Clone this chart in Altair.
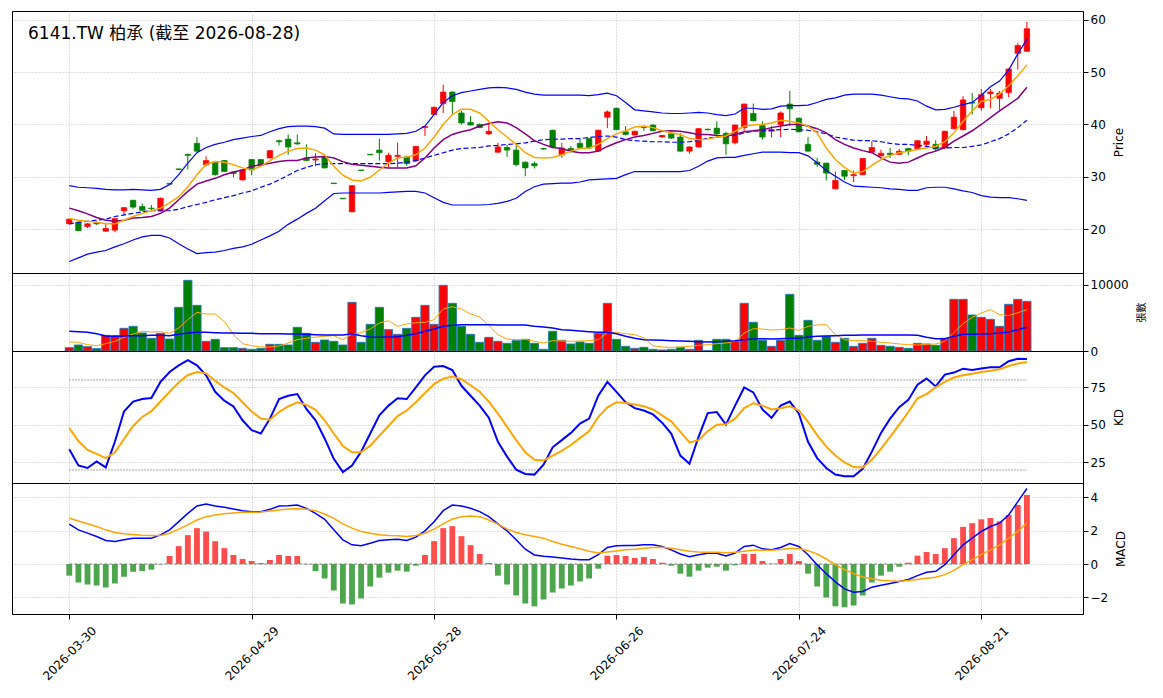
import json
import altair as alt
import numpy as np
import pandas as pd

# ---------------- data ----------------
HOLIDAYS = ["2026-04-03", "2026-04-06", "2026-05-01", "2026-06-19"]
dates = [d.strftime("%Y-%m-%d") for d in pd.bdate_range("2026-03-30", "2026-08-28")
         if d.strftime("%Y-%m-%d") not in HOLIDAYS]

opens = [21.0,21.3,20.5,21.2,19.6,19.8,23.5,25.5,24.3,24.0, 23.5,28.7,31.5,34.3,36.4,32.3,32.8,33.1,30.9,29.4,
         33.3,33.3,33.6,36.9,37.2,36.5,33.6,33.2,33.8,28.8, 25.9,23.3,31.3,34.3,35.1,32.9,33.9,33.8,33.1,39.4,
         41.9,44.0,46.2,42.2,40.4,40.0,38.2,34.7,35.6,35.1, 32.8,32.5,35.4,38.9,34.2,35.4,36.4,37.3,34.9,41.4,
         43.1,38.6,38.0,39.6,39.9,37.6,38.2,37.6,34.9,35.7, 39.1,39.3,38.3,36.5,39.4,42.1,39.8,38.7,40.0,43.9,
         41.2,36.2,32.8,32.6,27.7,31.2,30.2,30.4,34.7,34.0, 34.5,34.3,35.4,35.4,36.2,36.2,35.5,39.2,39.0,44.2,
         43.2,45.9,45.0,46.1,53.6,54.0]
closes = [21.9,19.7,21.0,21.0,20.1,22.0,24.1,24.2,23.6,23.9, 25.9,28.6,31.4,34.1,34.9,33.1,30.4,31.0,30.6,31.3,
          31.3,32.2,35.0,36.7,35.7,36.3,33.1,33.4,31.7,28.7, 25.8,28.3,31.2,34.2,34.6,34.1,34.1,32.5,35.8,39.6,
          43.3,46.2,44.4,40.3,39.9,39.4,38.7,35.7,35.1,32.3, 31.7,32.1,35.3,35.7,35.5,35.0,35.6,35.5,38.9,42.4,
          39.0,38.1,38.7,39.4,38.8,37.9,37.4,34.9,35.7,39.2, 39.0,38.2,36.3,39.9,43.9,40.7,37.6,39.0,42.2,43.0,
          38.6,34.9,32.4,30.7,29.3,30.1,30.4,33.5,35.6,34.5, 34.2,34.9,34.9,36.9,36.8,35.3,38.7,41.4,44.7,44.1,
          45.7,46.2,46.0,50.6,55.1,58.3]
highs = [22.0,21.4,21.1,21.5,21.2,22.1,24.2,25.6,24.9,24.6, 26.0,28.8,31.6,34.4,37.6,33.9,32.9,33.2,31.0,31.4,
         33.4,33.4,35.1,37.1,38.1,38.1,36.2,34.5,33.9,28.8, 25.9,28.4,31.3,34.3,37.3,34.6,36.5,34.0,35.9,39.7,
         43.4,47.6,46.3,42.6,41.6,40.2,40.3,36.5,36.1,36.2, 32.9,32.9,35.5,39.0,36.5,35.9,37.2,37.4,39.0,42.7,
         43.2,39.7,38.8,39.7,40.0,38.0,38.4,38.4,35.8,39.3, 39.2,40.6,38.6,40.0,44.0,44.0,40.6,39.7,42.5,46.4,
         41.3,37.6,33.6,32.7,31.0,31.3,31.2,33.6,36.8,35.2, 35.5,35.3,35.5,37.0,37.8,37.0,38.8,42.6,45.4,46.0,
         46.8,46.8,46.4,50.7,55.6,59.6]
lows = [20.9,19.6,20.2,20.8,19.5,19.4,22.6,23.9,23.4,23.4, 23.4,28.5,31.3,31.4,34.6,32.0,30.2,30.9,29.9,29.3,
        30.3,32.1,33.5,36.0,34.2,36.1,33.0,32.0,31.6,28.6, 25.7,23.2,31.1,34.1,33.1,31.9,31.8,32.1,32.8,37.8,
        41.8,42.2,41.9,40.0,39.8,39.3,38.0,34.6,33.8,32.0, 30.1,31.6,35.2,35.6,33.6,34.6,35.5,35.3,34.8,39.3,
        38.9,37.9,37.9,38.8,38.7,37.5,37.2,34.8,34.4,35.6, 38.9,37.6,34.2,36.2,38.8,40.6,37.1,37.5,37.6,39.7,
        38.5,34.8,31.9,29.3,27.6,29.4,29.0,30.3,34.6,33.9, 33.6,34.2,34.1,35.3,35.6,34.9,35.4,39.1,38.9,41.9,
        42.6,43.1,42.8,45.2,50.5,53.9]

ma5 = [22.0,21.7,21.5,21.3,21.0,21.0,21.7,22.4,23.0,23.5, 24.0,25.0,26.2,28.1,30.4,32.4,32.9,32.8,32.3,31.7,
       31.3,32.0,33.1,34.1,34.9, 35.4,35.5,35.1,34.2,32.0, 30.3,29.4,29.2,29.9,31.3, 32.6,33.6,33.8,34.2,35.5,
       37.6,40.0,41.9,42.9,42.9, 42.2,40.6,39.0,37.6,36.2, 34.6,33.7,33.6,33.7,34.2, 34.9,35.4,35.5,36.2,37.3,
       38.2,38.8,39.5,39.7,39.4, 38.8,38.4,38.1,37.3,37.1, 37.2,37.6,37.8,38.7,39.7, 39.9,40.0,40.3,40.8,40.6,
       40.3,39.7,38.4,35.5, 33.3,31.8,30.7,31.0,32.2, 33.3,34.1,34.6,34.9,35.2, 35.5,35.8,36.7,38.4,40.6,
       42.6,44.4,44.8,45.8,47.4, 49.3,51.4]
ma10 = [24.0,23.5,22.9,22.2,21.7,21.5,21.7,22.1,22.2,22.4, 23.0,24.0,25.6,27.2,28.6,29.2,29.7,30.4,30.9,31.3,
        32.0,32.3,32.6,32.9,33.1, 33.1,33.6,33.8,33.9,33.6, 32.9,32.4,32.2,32.0,31.8, 31.7,31.7,31.7,32.1,33.6,
        35.5,37.1,38.1,38.6,39.0, 39.7,40.2,40.5,40.3,39.4, 38.2,36.9,36.2,35.6,35.4, 34.9,34.6,34.6,34.9,35.8,
        36.5,37.1,37.6,37.9,38.3, 38.7,38.8,38.7,38.4,38.1, 38.1,37.9,37.8,38.1,38.6, 38.8,39.0,39.4,39.7,40.0,
        40.0,39.7,39.2,38.4, 37.1,36.2,35.5,35.0,34.6, 33.6,32.8,32.6,32.8,33.6, 34.4,34.9,35.6,36.8,37.8,
        38.8,40.0,41.3,42.6,43.8, 45.0,47.1]
ma20 = [21.0,21.3,21.5,21.7,21.9,22.4,22.7,23.0,23.3,23.5, 23.5,23.5,23.8,24.3,24.7,25.1,25.6,26.0,26.4,26.9,
        27.3,28.0,28.6,29.4,30.3, 31.2,31.8,32.3,32.5,32.5, 32.5,32.5,32.5,32.5,32.5, 32.5,32.6,32.8,33.1,33.6,
        34.1,34.6,35.1,35.4,35.5, 35.6,35.9,36.0,36.2,36.3, 36.5,36.8,37.1,37.2,37.2, 37.3,37.3,37.5,37.7,37.8,
        37.6,37.1,36.9,36.8,36.7, 36.7,36.6,36.6,36.7,36.9, 37.4,37.6,37.8,37.9,38.4, 38.7,38.8,38.9,39.0,39.1,
        39.0,38.9,38.6,38.2, 37.6,37.3,37.0,36.9,36.9, 36.7,36.4,36.2,36.2,36.0, 35.8,35.5,35.5,35.6,35.6,
        35.8,36.1,36.7,37.3,38.2, 39.4,40.8]
bb_up = [28.3,28.0,27.9,27.8,27.6,27.5,27.5,27.6,27.5,27.4, 27.6,28.5,30.4,32.6,34.6,35.6,36.2,36.6,37.1,37.4,
         37.7,37.9,38.6,39.2,39.6, 39.7,39.7,39.6,39.3,38.2, 38.1,38.1,38.1,38.1,38.1, 38.1,38.2,38.3,38.7,39.7,
         41.9,44.2,45.5,46.1,46.4, 46.7,47.0,47.1,47.0,46.7, 46.2,45.8,45.6,45.6,45.6, 45.6,45.6,45.5,45.7,46.0,
         45.5,44.2,42.8,42.6,42.4, 42.2,42.1,42.1,42.2,42.3, 42.2,41.9,41.7,42.0,43.1, 43.1,42.9,43.0,43.5,43.6,
         43.6,43.7,44.2,44.8, 45.1,45.6,45.8,45.8,45.8, 45.6,45.3,45.0,44.9,44.5, 43.5,42.8,42.9,43.3,43.8,
         44.2,45.6,47.2,48.3,50.4, 53.5,56.3]
bb_lo = [13.8,14.5,15.2,15.6,15.9,16.6,17.2,17.9,18.5,18.8, 18.8,18.3,17.2,16.2,15.3,15.5,15.6,15.9,16.3,16.6,
         17.1,17.9,18.7,19.6,20.9, 21.9,23.0,24.0,25.4,26.8, 26.9,26.9,26.9,26.9,26.9, 27.0,27.1,27.2,27.2,26.9,
         26.0,25.1,24.6,24.6,24.6, 24.6,24.7,24.9,25.3,25.9, 27.2,28.1,28.6,28.7,28.8, 28.8,29.0,29.4,29.5,29.6,
         29.7,30.4,31.0,31.0,31.0, 31.0,31.0,31.0,31.2,32.0, 33.0,33.6,33.7,33.7,34.1, 34.4,34.7,34.7,34.7,34.6,
         34.6,34.0,32.7,31.2, 30.1,29.0,28.2,28.1,28.0, 27.9,27.7,27.6,27.4,27.4, 27.9,28.0,28.0,27.7,27.3,
         27.0,26.4,26.1,26.0,26.0, 25.8,25.5]

volume = [505,909,657,354,2374,2300,3434,3737,2727,1919, 2677,1818,6616,10707,6919,1465,1768,505,505,404,
          253,404,1010,1010,909,3586,2677,1313,1667,1465, 909,7374,1313,4040,6616,3232,2525,3434,5101,6919,
          4040,9949,7222,3737,2525,1313,2071,1465,1162,1566, 1768,1162,253,2980,1616,1061,1364,1162,2677,7222,
          1768,707,404,556,253,152,253,556,253,1616, 50,1768,1768,1465,7222,4343,1616,707,1616,8586,
          2374,4646,1616,2222,1313,1919,707,1162,1919,859, 707,556,404,1162,1061,859,1919,7828,7828,5455,
          5101,4798,3737,7071,7828,7525]
vol_ma5 = [1364,1313,960,808,1111,1465,2071,2576,2980,2879, 2929,2677,3485,4747,5859,5606,5606,4495,2475,1111,
           808,606,606,758,1212,1717,1919,2121,2222,2323, 1717,2576,2778,3333,4242,4596,3737,4091,4293,4343,
           4747,6364,6717,6364,5606,5152,3889,2475,1818,1717, 1768,1465,
           1212,1566,1515,1465,1515,1566,1717,2828,
           2828,2626,2475,1970,808,606,556,606,707,859, 960,1111,1212,1465,2727,3384,3333,3182,3232,3485,
           3131,3737,3939,3990,2475,1717,1566,1566,1465,1313, 1212,1061,960,909,1010,1061,1465,2828,4141,5101,
           5758,6263,5505,5354,5808,6263]
vol_ma20 = [2980,2929,2828,2626,2273,2222,2273,2323,2323,2374, 2374,2323,2525,2727,2828,2828,2778,2727,2727,2677,
            2677,2626,2626,2626,2576,2576,2525,2475,2424,2424, 2424,2626,2323,2121,2071,2121,2172,2374,2626,2980,
            3333,3737,3889,3990,3990,3990,3990,3939,3939,3939, 3939,3737,
            3636,3485,3232,3131,3030,2929,2828,2828,2626,
            2222,1919,1717,1667,1616,1566,1515,1465,1414,1364, 1414,1465,1566,1717,1818,1869,1818,1869,1919,1919,
            2121,2222,2273,2323,2374,2374,2424,2424,2424,2424, 2424,2424,2374,2071,1869,1869,2222,2525,2525,2576,
            2626,2727,2879,3232,3586]

k_vals = [33.8,23.0,21.3,25.7,21.7,38.8,59.0,65.6,67.3,68.0, 78.7,85.3,89.7,93.2,89.7,83.1,72.1,66.2,62.3,53.1,
          46.5,44.3,54.2,67.3,69.5,70.6,60.7,53.1,41.0,27.4, 18.6,23.0,32.2,44.3,56.4,62.9,67.8,67.3,75.0,83.1,
          88.8,89.3,86.6,76.1,69.5,62.9,54.8,38.8,28.9,20.2, 17.3,16.9,
          23.5,35.1,39.9,44.7,50.9,54.2,69.5,78.7,72.1,
          65.1,61.2,59.6,57.0,51.5,44.3,29.6,24.1,42.1,57.9, 58.6,50.2,62.9,75.0,71.7,60.3,54.8,62.9,65.6,57.5,
          38.8,27.9,21.3,16.9,15.8,15.8,20.8,32.2,44.7,54.2, 61.8,66.7,76.8,80.9,75.7,83.6,84.9,87.5,86.6,87.7,
          88.4,88.4,92.5,94.1,93.9]
d_vals = [48.0,39.3,33.3,30.7,27.9,31.6,40.6,49.3,55.3,59.2, 65.6,72.1,78.3,83.3,85.3,84.4,79.4,75.0,71.3,65.1,
          59.0,54.2,53.5,58.6,62.3,65.1,63.4,60.1,53.1,44.3, 36.0,31.8,31.8,36.2,42.8,49.3,55.9,59.6,65.1,71.3,
          77.2,80.9,82.2,80.5,76.5,72.1,65.6,57.5,48.7,39.9, 31.8,26.8,
          26.3,29.6,32.7,36.6,41.4,45.8,55.3,61.8,65.1,
          64.6,63.6,62.5,60.3,56.4,52.4,45.4,38.4,39.9,45.8, 50.2,50.4,54.2,61.2,64.5,62.9,60.3,61.2,62.5,59.6,
          52.0,43.2,35.5,29.6,25.0,21.9,21.7,26.8,34.0,42.1, 50.2,58.6,67.8,70.6,75.0,78.7,81.6,83.1,84.2,85.3,
          86.2,87.1,89.3,91.0,91.9]

dif = [2.39,2.05,1.85,1.65,1.41,1.35,1.45,1.55,1.55,1.55, 1.75,2.05,2.54,3.04,3.48,3.60,3.48,3.40,3.30,3.20,
       3.14,3.14,3.28,3.48,3.50,3.54,3.34,3.04,2.68,2.05, 1.45,1.15,1.09,1.25,1.41,1.45,1.49,1.41,1.61,1.99,
       2.54,3.20,3.54,3.48,3.34,3.14,2.84,2.41,1.99,1.45, 0.89,0.54,
       0.46,0.42,0.36,0.30,0.26,0.26,0.56,0.99,1.09,
       1.11,1.11,1.15,1.15,1.05,0.85,0.60,0.44,0.56,0.64, 0.64,0.48,0.66,1.05,1.13,0.91,0.85,0.99,1.23,1.05,
       0.56,-0.04,-0.58,-1.07,-1.49,-1.69,-1.65,-1.39,-1.27,-1.17, -1.05,-0.93,-0.70,-0.50,-0.44,-0.04,0.56,1.15,1.55,1.95,
       2.25,2.45,2.94,3.74,4.53]
dea = [2.74,2.58,2.41,2.25,2.05,1.89,1.81,1.77,1.73,1.71, 1.71,1.85,2.09,2.35,2.64,2.84,2.94,3.02,3.06,3.10,
       3.10,3.12,3.18,3.24,3.30,3.32,3.28,3.20,3.00,2.74, 2.41,2.15,1.95,1.85,1.75,1.71,1.69,1.65,1.71,1.85,
       2.09,2.41,2.70,2.84,2.88,2.84,2.64,2.39,2.09,1.89, 1.75,1.65,
       1.55,1.35,1.19,1.05,0.91,0.76,0.66,0.72,0.78,
       0.85,0.89,0.95,0.99,1.01,0.95,0.85,0.76,0.72,0.70, 0.70,0.68,0.70,0.76,0.82,0.83,0.83,0.87,0.93,0.93,
       0.80,0.60,0.30,-0.04,-0.34,-0.58,-0.78,-0.89,-0.97,-1.01, -1.03,-0.99,-0.93,-0.85,-0.80,-0.64,-0.38,-0.04,0.26,0.56,
       0.85,1.15,1.55,1.95,2.45]
hist = [-0.70,-1.11,-1.23,-1.29,-1.41,-1.17,-0.76,-0.46,-0.42,-0.34, -0.02,0.48,1.07,1.73,2.15,1.95,1.37,0.95,0.54,0.30,
        0.18,0.06,0.24,0.54,0.48,0.48,-0.02,-0.42,-0.87,-1.59, -2.37,-2.43,-2.07,-1.35,-0.82,-0.52,-0.40,-0.46,-0.10,0.54,
        1.37,2.15,2.27,1.67,1.13,0.60,0.06,-0.70,-1.23,-1.89, -2.37,-2.54,
        -2.13,-1.71,-1.47,-1.29,-1.05,-0.87,-0.28,0.50,0.54,
        0.48,0.36,0.42,0.30,0.08,-0.10,-0.58,-0.76,-0.40,-0.22, -0.16,-0.40,-0.08,0.60,0.60,0.18,0.02,0.30,0.60,0.18,
        -0.58,-1.35,-2.01,-2.54,-2.60,-2.49,-1.89,-1.11,-0.70,-0.46, -0.16,0.08,0.50,0.72,0.60,0.95,1.55,2.23,2.45,2.68,
        2.76,2.56,2.94,3.54,4.14]

TITLE = "6141.TW 柏承 (截至 2026-08-28)"
TICK_IDX = [0, 20, 40, 60, 80, 100]
KD_LEVELS = [20, 80]

# ---------------- style ----------------
W = 1071
H_PRICE, H_VOL, H_KD, H_MACD = 262, 78, 132, 131
RED, GREEN = "#ff0000", "#008000"
HRED, HGREEN = "#ff4d4d", "#4da64d"
LAT = "DejaVu Sans"
CJK = "DejaVu Sans, Noto Sans CJK TC"

N = len(dates)
df = pd.DataFrame({
    "i": list(range(N)), "date": dates,
    "open": opens, "high": highs, "low": lows, "close": closes,
    "ma5": ma5, "ma10": ma10, "ma20": ma20, "bb_up": bb_up, "bb_lo": bb_lo,
    "vol": volume, "vol_ma5": vol_ma5, "vol_ma20": vol_ma20,
    "k": k_vals, "d": d_vals, "dif": dif, "dea": dea, "hist": hist,
})
df["ccol"] = np.where(df["close"] >= df["open"], RED, GREEN)
df["hcol"] = np.where(df["hist"] >= 0, HRED, HGREEN)

xscale = alt.Scale(domain=[-6.28, 111.15], nice=False, zero=False)
label_expr = json.dumps(dates) + "[datum.value]"


def x_axis(show):
    if show:
        return alt.Axis(values=TICK_IDX, labelExpr=label_expr, labelAngle=315, labelAlign="center",
                        labelBaseline="middle", labelPadding=34, tickSize=5, grid=True, domain=True,
                        domainColor="black", title=None, labelOverlap=False, labelFontSize=12)
    return alt.Axis(values=TICK_IDX, labels=False, ticks=False, grid=True, domain=False, title=None)


def X(field, show):
    return alt.X(f"{field}:Q", scale=xscale, axis=x_axis(show))


def y_axis(values, title, title_font=LAT, title_size=12, fmt=None):
    kw = dict(orient="right", values=values, title=title, grid=True, domain=False, tickSize=5,
              titleAngle=270, titleBaseline="top", titlePadding=8, titleFont=title_font,
              titleFontSize=title_size)
    if fmt:
        kw["format"] = fmt
    return alt.Axis(**kw)


COL = alt.Color("ccol:N", scale=None, legend=None)
base = alt.Chart(df)

# ---------------- price panel ----------------
pscale = alt.Scale(domain=[11.6, 61.7], nice=False, zero=False)
paxis = y_axis([20, 30, 40, 50, 60], "Price")


def pline(field, color, width, dash=None):
    kw = dict(color=color, strokeWidth=width)
    if dash:
        kw["strokeDash"] = dash
    return base.mark_line(**kw).encode(x=X("i", False), y=alt.Y(f"{field}:Q", scale=pscale, axis=paxis))


wick = base.mark_rule(strokeWidth=1).encode(
    x=X("i", False), y=alt.Y("low:Q", scale=pscale, axis=paxis), y2="high:Q", color=COL)
body = base.transform_calculate(x0="datum.i - 0.3", x1="datum.i + 0.3").mark_bar(strokeWidth=0.7).encode(
    x=X("x0", False), x2="x1:Q", y=alt.Y("open:Q", scale=pscale, axis=paxis), y2="close:Q",
    color=COL, stroke=alt.Stroke("ccol:N", scale=None, legend=None))
title_txt = alt.Chart(pd.DataFrame({"t": [TITLE]})).mark_text(
    align="left", baseline="alphabetic", fontSize=17, font=CJK, color="black").encode(
    x=alt.value(16), y=alt.value(28), text="t:N")

price = alt.layer(
    wick, body,
    pline("bb_up", "#0000ff", 1.2), pline("bb_lo", "#0000ff", 1.2),
    pline("ma20", "#0000ff", 1.2, [5, 2.5]),
    pline("ma10", "#800080", 1.5), pline("ma5", "#ffa500", 1.5),
    title_txt,
).properties(width=W, height=H_PRICE)

# ---------------- volume panel ----------------
vscale = alt.Scale(domain=[0, 11818], nice=False, zero=False)
vaxis = y_axis([0, 10000], "張數", title_font="Noto Sans CJK TC", title_size=10, fmt="d")
vbars = base.transform_calculate(x0="datum.i - 0.45", x1="datum.i + 0.45").mark_bar(
    stroke="#1f77b4", strokeWidth=0.9).encode(
    x=X("x0", False), x2="x1:Q", y=alt.Y("vol:Q", scale=vscale, axis=vaxis), y2=alt.datum(0),
    color=COL)
vma5 = base.mark_line(color="#ffa500", strokeWidth=1).encode(
    x=X("i", False), y=alt.Y("vol_ma5:Q", scale=vscale, axis=vaxis))
vma20 = base.mark_line(color="#0000ff", strokeWidth=1.5).encode(
    x=X("i", False), y=alt.Y("vol_ma20:Q", scale=vscale, axis=vaxis))
vol = alt.layer(vbars, vma5, vma20).properties(width=W, height=H_VOL)

# ---------------- KD panel ----------------
kscale = alt.Scale(domain=[11.3, 99.3], nice=False, zero=False)
kaxis = y_axis([25, 50, 75], "KD")
kd_ref = alt.Chart(pd.DataFrame({"lv": KD_LEVELS, "a": [0, 0], "b": [N - 1, N - 1]})).mark_rule(
    color="#888888", strokeWidth=1, strokeDash=[1.5, 1.5]).encode(
    x=X("a", False), x2="b:Q", y=alt.Y("lv:Q", scale=kscale, axis=kaxis))
kline = base.mark_line(color="#0000ff", strokeWidth=2).encode(
    x=X("i", False), y=alt.Y("k:Q", scale=kscale, axis=kaxis))
dline = base.mark_line(color="#ffa500", strokeWidth=2).encode(
    x=X("i", False), y=alt.Y("d:Q", scale=kscale, axis=kaxis))
kd = alt.layer(kd_ref, kline, dline).properties(width=W, height=H_KD)

# ---------------- MACD panel ----------------
mscale = alt.Scale(domain=[-3.0, 4.86], nice=False, zero=False)
maxis = y_axis([-2, 0, 2, 4], "MACD")
hbars = base.transform_calculate(x0="datum.i - 0.32", x1="datum.i + 0.32").mark_bar().encode(
    x=X("x0", True), x2="x1:Q", y=alt.Y("hist:Q", scale=mscale, axis=maxis), y2=alt.datum(0),
    color=alt.Color("hcol:N", scale=None, legend=None))
zero = alt.Chart(pd.DataFrame({"z": [0], "a": [0], "b": [N - 1]})).mark_rule(
    color="#808080", strokeWidth=1, strokeDash=[3, 2]).encode(
    x=X("a", True), x2="b:Q", y=alt.Y("z:Q", scale=mscale, axis=maxis))
difl = base.mark_line(color="#0000ff", strokeWidth=1.5).encode(
    x=X("i", True), y=alt.Y("dif:Q", scale=mscale, axis=maxis))
deal = base.mark_line(color="#ffa500", strokeWidth=1.5).encode(
    x=X("i", True), y=alt.Y("dea:Q", scale=mscale, axis=maxis))
macd = alt.layer(hbars, zero, difl, deal).properties(width=W, height=H_MACD)

chart = alt.vconcat(price, vol, kd, macd, spacing=0, bounds="flush").properties(
    padding={"left": 3, "top": 2, "right": 5, "bottom": 5}
).configure_view(stroke="black", strokeWidth=1).configure_axis(
    labelFont=LAT, labelFontSize=12, labelColor="black", titleFont=LAT, titleFontSize=12,
    titleFontWeight="normal", titleColor="black", gridColor="#b0b0b0", gridDash=[1, 2],
    gridWidth=0.8, tickColor="black", tickWidth=1
)

chart.save("out.html", embed_options={"renderer": "svg", "actions": False})
